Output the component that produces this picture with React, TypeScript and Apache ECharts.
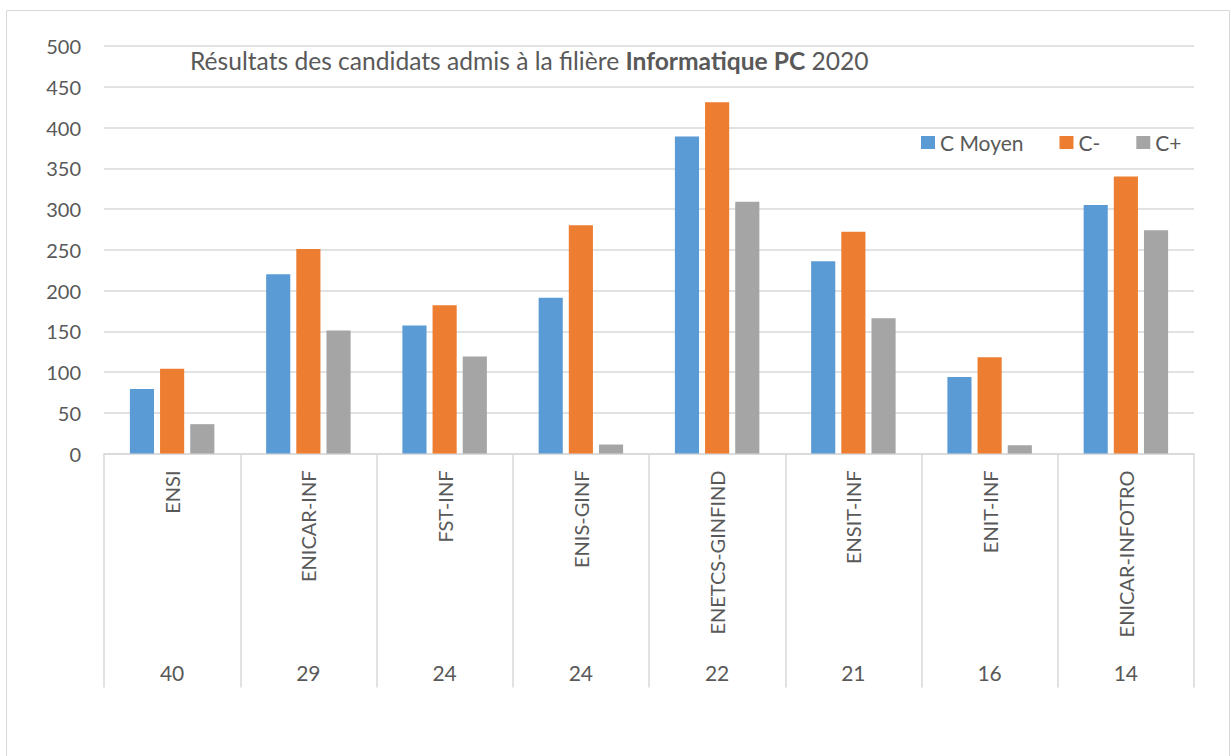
import React, { useEffect, useRef } from "react";
import * as echarts from "echarts";

const categories = ["ENSI", "ENICAR-INF", "FST-INF", "ENIS-GINF", "ENETCS-GINFIND", "ENSIT-INF", "ENIT-INF", "ENICAR-INFOTRO"];
const counts = ["40", "29", "24", "24", "22", "21", "16", "14"];
const cMoyen = [79, 220, 157, 191, 389, 236, 94, 305];
const cMoins = [104, 251, 182, 280, 431, 272, 118, 340];
const cPlus = [36, 151, 119, 11, 309, 166, 10, 274];
const seriesNames = ["C Moyen", "C-", "C+"];
const yTicks = { min: 0, max: 500, interval: 50 };

const FONT = "Lato";
const TXT = "#595959";
const LINE = "#d9d9d9";

export default function App() {
  const ref = useRef<HTMLDivElement>(null);
  useEffect(() => {
    if (!ref.current) return;
    const chart = echarts.init(ref.current, null, { renderer: "svg" });
    chart.setOption({
      animation: false,
      backgroundColor: "#ffffff",
      color: ["#5B9BD5", "#ED7D31", "#A5A5A5"],
      textStyle: { fontFamily: FONT },
      title: {
        left: 190,
        top: 48,
        padding: 0,
        text: "{n|Résultats des candidats admis à la filière }{b|Informatique PC}{n| 2020}",
        textStyle: {
          fontWeight: "normal",
          fontFamily: FONT,
          fontSize: 24.6,
          color: TXT,
          rich: {
            n: { fontFamily: FONT, fontSize: 24.6, color: TXT, fontWeight: "normal" },
            b: { fontFamily: FONT, fontSize: 24.6, color: TXT, fontWeight: "bold" },
          },
        },
      },
      legend: {
        left: 921,
        top: 132,
        padding: 0,
        itemWidth: 14,
        itemHeight: 13,
        itemGap: 36,
        icon: "rect",
        textStyle: { fontFamily: FONT, fontSize: 21, color: TXT },
        data: seriesNames,
      },
      graphic: [
        {
          type: "rect",
          shape: { x: 6.5, y: 10.5, width: 1223, height: 770 },
          style: { fill: "none", stroke: LINE, lineWidth: 1 },
          silent: true,
        },
      ],
      grid: { left: 104, right: 37, top: 46, bottom: 302.5, containLabel: false },
      xAxis: [
        {
          type: "category",
          data: categories,
          position: "bottom",
          axisLine: { show: true, lineStyle: { color: LINE, width: 1.5 } },
          axisTick: { show: true, interval: 0, length: 234, lineStyle: { color: LINE, width: 1.5 } },
          axisLabel: {
            interval: 0,
            rotate: 90,
            margin: 17,
            fontFamily: FONT,
            fontSize: 20,
            color: TXT,
          },
          splitLine: { show: false },
        },
        {
          type: "category",
          data: counts,
          position: "bottom",
          offset: 0,
          axisLine: { show: false },
          axisTick: { show: false },
          axisLabel: { interval: 0, margin: 208, fontFamily: FONT, fontSize: 21, color: TXT },
          splitLine: { show: false },
        },
      ],
      yAxis: {
        type: "value",
        min: yTicks.min,
        max: yTicks.max,
        interval: yTicks.interval,
        axisLine: { show: false },
        axisTick: { show: false },
        axisLabel: { margin: 23, fontFamily: FONT, fontSize: 20, color: TXT },
        splitLine: { lineStyle: { color: LINE, width: 1.5 } },
      },
      series: [
        { name: seriesNames[0], type: "bar", data: cMoyen, barGap: "25%", barCategoryGap: "38%" },
        { name: seriesNames[1], type: "bar", data: cMoins, barGap: "25%", barCategoryGap: "38%" },
        { name: seriesNames[2], type: "bar", data: cPlus, barGap: "25%", barCategoryGap: "38%" },
      ],
    });
    return () => chart.dispose();
  }, []);
  return (
    <div
      ref={ref}
      style={{ position: "absolute", left: 0, top: 0, width: 1231, height: 756 }}
    />
  );
}
